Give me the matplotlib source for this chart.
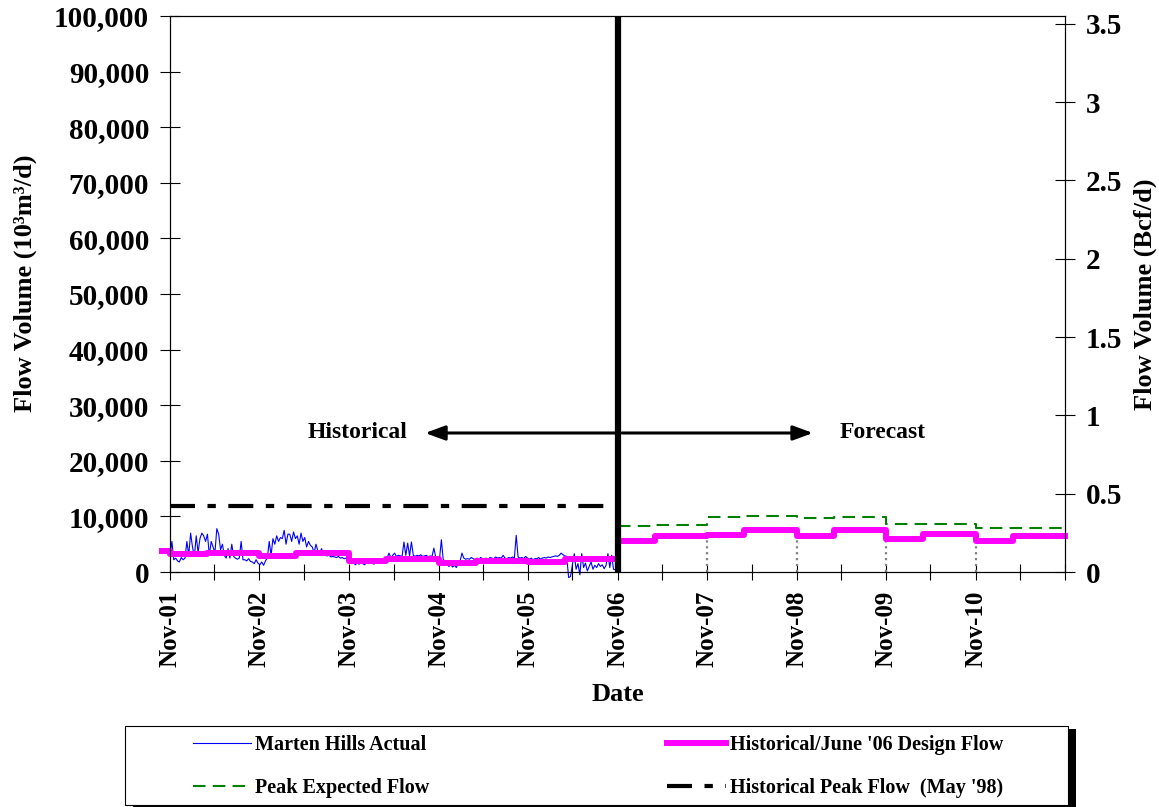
import numpy as np
import pandas as pd
import matplotlib
matplotlib.use('Agg')
import matplotlib.pyplot as plt
import matplotlib.dates as mdates
from matplotlib.patches import Rectangle
from matplotlib.ticker import FuncFormatter, FixedLocator

plt.rcParams['font.family'] = ['Liberation Serif', 'DejaVu Serif']
plt.rcParams['font.weight'] = 'bold'
plt.rcParams['axes.labelweight'] = 'bold'

# Marten Hills actual (10^3 m3/d / 1000), ~weekly readings, Nov-01 .. Oct-06
actual_y1 = [3.0, 5.5, 2.2, 2.5, 2.0, 1.8, 2.6, 2.2, 2.5, 5.5, 3.0, 7.0,
             4.5, 2.8, 6.5, 3.5, 6.0, 7.0, 6.5, 5.5, 6.8, 3.0, 5.5, 4.5,
             3.5, 7.8, 6.8, 4.0, 5.0, 3.0, 2.5, 4.2, 2.5, 5.0, 2.8, 2.5,
             2.3, 2.5, 5.5, 2.2, 2.2, 2.0, 2.4, 1.9, 1.8, 1.5, 2.2, 1.6]
actual_y2 = [1.3, 1.8, 1.2, 2.0, 2.5, 5.5, 3.0, 6.0, 5.0, 6.5, 5.5, 6.2,
             6.0, 7.5, 5.0, 6.8, 6.8, 5.5, 7.2, 6.0, 6.5, 5.0, 7.0, 5.5,
             6.2, 4.5, 5.5, 4.8, 4.5, 3.5, 5.0, 3.8, 3.5, 4.2, 3.2, 3.0,
             2.9, 3.0, 2.7, 2.8, 2.7, 2.6, 2.8, 2.5, 2.6, 2.4, 2.5, 2.3]
actual_y3 = [2.0, 1.5, 1.8, 1.3, 1.6, 1.4, 1.9, 1.5, 1.3, 1.7, 1.5, 1.8,
             1.6, 1.4, 2.0, 1.7, 1.9, 2.2, 1.8, 2.4, 2.5, 3.4, 2.6, 3.0,
             3.4, 2.8, 3.0, 2.9, 2.8, 5.4, 3.0, 5.2, 2.9, 5.4, 3.0, 2.8,
             3.0, 2.9, 3.1, 2.8, 2.9, 3.0, 2.7, 2.9, 2.8, 4.3, 2.6, 2.4]
actual_y4 = [2.3, 5.8, 2.2, 2.0, 1.5, 1.0, 1.3, 0.9, 1.2, 0.8, 1.5, 1.9,
             3.4, 2.5, 2.3, 2.4, 2.3, 2.6, 2.4, 2.2, 2.5, 2.3, 2.6, 2.4,
             2.4, 2.5, 2.3, 2.6, 2.5, 2.4, 2.7, 2.5, 2.6, 2.5, 3.0, 2.5,
             2.4, 2.6, 2.5, 2.7, 2.5, 6.6, 2.7, 2.5, 2.6, 2.4, 2.8, 2.5]
actual_y5 = [2.3, 2.5, 2.2, 2.4, 2.4, 2.6, 2.3, 2.5, 2.6, 2.5, 2.7, 2.6,
             2.7, 2.8, 2.9, 2.8, 3.0, 3.4, 3.1, 2.9, 2.8, -1.0, -0.8, 1.2,
             3.3, 0.5, 1.5, -0.5, 3.3, 0.8, 1.6, 0.2, 1.0, 1.8, 0.5, 1.2,
             0.8, 1.5, 1.0, 1.3, 0.6, 1.2, 3.3, 0.8, 3.0, 0.5, 0.4, 0.3]
actual = np.array(actual_y1 + actual_y2 + actual_y3 + actual_y4 + actual_y5) * 1000
actual_dates = pd.date_range('2001-11-01', '2006-10-31', periods=len(actual))

# Historical / June '06 design flow (steps)
design_dates = ['2001-10-01', '2001-11-01', '2002-04-01', '2002-11-01', '2003-04-01',
                '2003-11-01', '2004-04-01', '2004-11-01', '2005-04-01', '2005-11-01',
                '2006-04-01', '2006-11-01', '2007-04-01', '2007-11-01', '2008-04-01',
                '2008-11-01', '2009-04-01', '2009-11-01', '2010-04-01', '2010-11-01',
                '2011-04-01', '2011-11-01']
design_vals = [3800, 3200, 3500, 2900, 3400, 2000, 2300, 1700, 1900, 1850,
               2300, 5600, 6500, 6600, 7600, 6500, 7600, 5900, 6800, 5600,
               6400, 6400]

# Peak expected flow (steps)
peak_dates = ['2006-11-01', '2007-04-01', '2007-11-01', '2008-04-01', '2008-11-01',
              '2009-04-01', '2009-11-01', '2010-11-01', '2011-11-01']
peak_vals = [8300, 8500, 9950, 10100, 9800, 9950, 8700, 8000, 8000]

# Historical peak flow (May '98)
hist_peak = 11900
hist_peak_dates = ['2001-11-01', '2006-11-01']

drop_dates = ['2007-11-01', '2008-11-01', '2009-11-01', '2010-11-01']
split_date = '2006-11-01'

tick_dates = ['2001-11-01', '2002-11-01', '2003-11-01', '2004-11-01', '2005-11-01',
              '2006-11-01', '2007-11-01', '2008-11-01', '2009-11-01', '2010-11-01']
tick_labels = ['Nov-01', 'Nov-02', 'Nov-03', 'Nov-04', 'Nov-05',
               'Nov-06', 'Nov-07', 'Nov-08', 'Nov-09', 'Nov-10']

fig = plt.figure(figsize=(11.59, 8.07), dpi=100)
ax = fig.add_axes([0.1467, 0.2912, 0.7722, 0.689])

l_act, = ax.plot(actual_dates, actual, color='#0000FF', lw=0.8, clip_on=False,
                 label='Marten Hills Actual')
l_des, = ax.step(pd.to_datetime(design_dates), design_vals, where='post', color='#FF00FF',
                 lw=4.3, clip_on=False, label="Historical/June '06 Design Flow", zorder=3)
l_peak, = ax.step(pd.to_datetime(peak_dates), peak_vals, where='post', color='#008000',
                  lw=1.5, dashes=(6, 3.5), label='Peak Expected Flow')
l_hist, = ax.plot(pd.to_datetime(hist_peak_dates), [hist_peak, hist_peak], color='black',
                  lw=3, dashes=(6, 3, 2, 3), label="Historical Peak Flow  (May '98)")

drop_tops = [design_vals[design_dates.index(d)] for d in drop_dates]
ax.vlines(pd.to_datetime(drop_dates), 0, drop_tops, colors='#808080', linestyles=':', lw=1.6)

ax.axvline(pd.Timestamp(split_date), color='black', lw=4.5, zorder=4)

ax.set_xlim(pd.Timestamp('2001-11-01'), pd.Timestamp('2011-11-01'))
ax.set_ylim(0, 100000)
ax.set_yticks(np.arange(0, 100001, 10000))
ax.yaxis.set_major_formatter(FuncFormatter(lambda v, p: f'{v:,.0f}'))

ax.xaxis.set_major_locator(FixedLocator(mdates.date2num(pd.to_datetime(tick_dates))))
ax.set_xticklabels(tick_labels)
minor = pd.to_datetime([f'{y}-05-01' for y in range(2002, 2012)] + ['2011-11-01'])
ax.xaxis.set_minor_locator(FixedLocator(mdates.date2num(minor)))

ax.tick_params(axis='y', direction='inout', length=14, width=0.8, labelsize=21, pad=8)
ax.tick_params(axis='x', which='both', direction='inout', length=11, width=0.8,
               labelsize=18, pad=8, labelrotation=90)
for s in ax.spines.values():
    s.set_linewidth(0.8)

ax.set_xlabel('Date', fontsize=19, fontweight='bold', labelpad=11)
ax.set_ylabel('Flow Volume (10³m³/d)', fontsize=19, fontweight='bold')
ax.yaxis.set_label_coords(-0.1486, 0.52)

ax2 = ax.twinx()
ax2.set_ylim(0, 3.55)
ax2.set_yticks(np.arange(0, 3.51, 0.5))
ax2.yaxis.set_major_formatter(FuncFormatter(lambda v, p: f'{v:g}'))
ax2.tick_params(axis='y', direction='inout', length=14, width=0.8, labelsize=21, pad=8)
ax2.set_ylabel('Flow Volume (Bcf/d)', fontsize=19, fontweight='bold', labelpad=8)
for s in ax2.spines.values():
    s.set_linewidth(0.8)

# historical / forecast arrows
arrow = dict(arrowstyle='-|>,head_length=0.6,head_width=0.22', color='black', lw=2.2,
             mutation_scale=20, shrinkA=0, shrinkB=0)
ax.annotate('', xy=(0.285, 0.25), xycoords='axes fraction', xytext=(0.497, 0.25), arrowprops=arrow)
ax.annotate('', xy=(0.7184, 0.25), xycoords='axes fraction', xytext=(0.505, 0.25), arrowprops=arrow)
ax.text(0.21, 0.25, 'Historical', transform=ax.transAxes, ha='center', va='center', fontsize=17)
ax.text(0.796, 0.25, 'Forecast', transform=ax.transAxes, ha='center', va='center', fontsize=17)

# legend box with shadow
W, H = 1159, 807
bx, by, bw, bh = 125 / W, 1 - 805 / H, 943 / W, 79 / H
fig.add_artist(Rectangle((bx + 8 / W, by - 3 / H), bw, bh, transform=fig.transFigure,
                         facecolor='black', edgecolor='none'))
fig.add_artist(Rectangle((bx, by), bw, bh, transform=fig.transFigure,
                         facecolor='white', edgecolor='black', lw=0.8))
fig.legend(handles=[l_act, l_peak, l_des, l_hist], ncol=2, frameon=False,
           loc='upper left', bbox_to_anchor=(193 / W, 1 - 735 / H),
           borderaxespad=0, borderpad=0, fontsize=14.5, handlelength=2.9,
           handletextpad=0.2, columnspacing=11.8, labelspacing=1.15)

fig.savefig('out.png', dpi=100)
